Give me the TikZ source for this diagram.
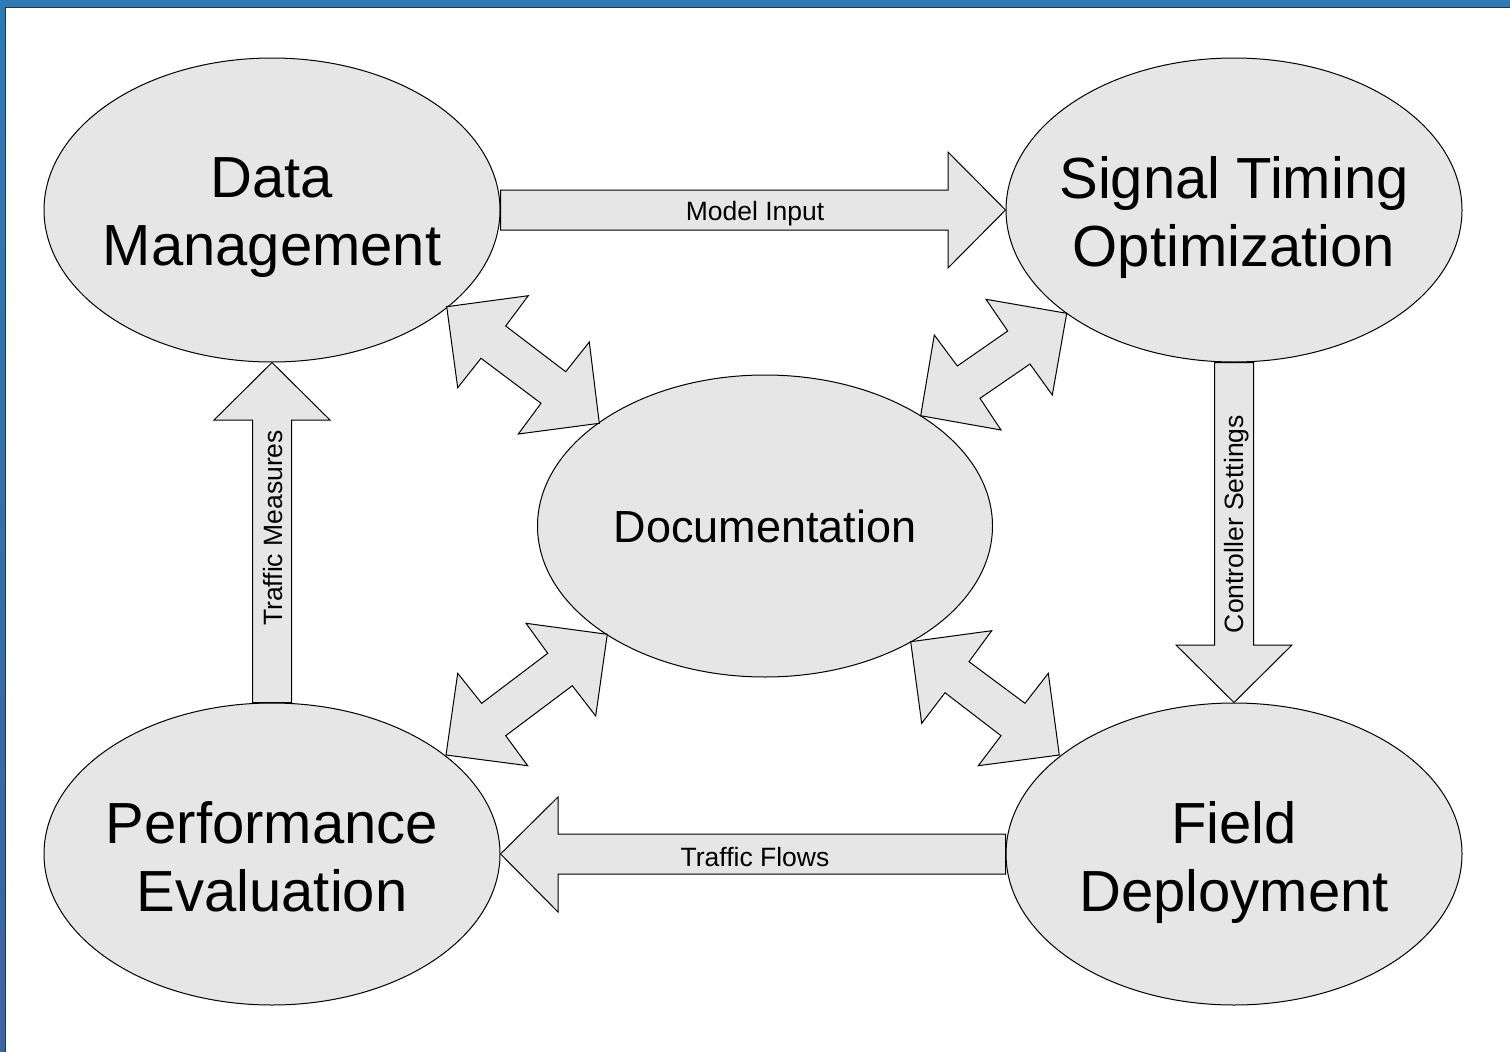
\documentclass[tikz,border=0pt]{standalone}
\usepackage{fontspec}
\setmainfont{Liberation Sans}
\usetikzlibrary{shapes.geometric,calc}
\definecolor{frameblue}{HTML}{2F7AB3}
\definecolor{frameblue2}{HTML}{3C64A0}
\definecolor{shapegray}{HTML}{E6E6E6}
\tikzset{
  bubble/.style={ellipse, draw=black, line width=1pt, fill=shapegray, inner sep=0pt,
    minimum width=456pt, minimum height=304pt},
  bubbletext/.style={align=center, inner sep=0pt, font=\fontsize{58}{68}\selectfont},
  blockarrow/.style={draw=black, line width=1pt, fill=shapegray, line join=miter},
  arrowlabel/.style={font=\fontsize{26.5}{30}\selectfont, inner sep=0pt}
}
\begin{document}
\begin{tikzpicture}[x=1pt,y=-1pt]
\useasboundingbox (0,0) rectangle (1510,1052);
\fill[white] (0,0) rectangle (1510,1052);
% frame
\shade[top color=frameblue, bottom color=frameblue2] (0,0) rectangle (5,1052);
\fill[frameblue] (0,0) rectangle (1510,7);
\draw[black!80, line width=1.2pt] (5.6,1052) -- (5.6,7.6) -- (1510,7.6);

% ellipses
\node[bubble] (dm) at (272,210) {};
\node[bubble] (sto) at (1234,210) {};
\node[bubble, minimum width=455pt, minimum height=302pt] (doc) at (765,526) {};
\node[bubble, minimum height=302pt] (pe) at (272,854) {};
\node[bubble, minimum height=302pt] (fd) at (1234,854) {};

\node[bubbletext] (dmt) at ($(dm.center)+(0,8)$) {Data\\Management};
\node[bubbletext] (stot) at ($(sto.center)+(0,8)$) {Signal Timing\\Optimization};
\node[bubbletext, font=\fontsize{45}{54}\selectfont] (doct) at (doc.center) {Documentation};
\node[bubbletext] (pet) at ($(pe.center)+(0,3)$) {Performance\\Evaluation};
\node[bubbletext] (fdt) at ($(fd.center)+(0,8)$) {Field\\Deployment};

% straight block arrows
\draw[blockarrow] ($(dm.east)+(0,-20)$) -- (948,190) -- (948,152) -- (sto.west) -- (948,268) -- (948,230) -- ($(dm.east)+(0,20)$) -- cycle;
\draw[blockarrow] ($(fd.west)+(0,-20)$) -- (558,834) -- (558,797) -- (pe.east) -- (558,912) -- (558,874) -- ($(fd.west)+(0,20)$) -- cycle;
\draw[blockarrow] ($(pe.north)+(-19.5,0)$) -- (252.5,420) -- (214,420) -- (dm.south) -- (330,420) -- (291.5,420) -- ($(pe.north)+(19.5,0)$) -- cycle;
\draw[blockarrow] ($(sto.south)+(-19.5,0)$) -- (1214.5,645) -- (1176,645) -- (fd.north) -- (1292,645) -- (1253.5,645) -- ($(sto.south)+(19.5,0)$) -- cycle;

\node[arrowlabel] (lmi) at (755,214) {Model Input};
\node[arrowlabel] (ltf) at (755,857) {Traffic Flows};
\node[arrowlabel, rotate=90] (ltm) at (273,528) {Traffic Measures};
\node[arrowlabel, rotate=90] (lcs) at (1237,524) {Controller Settings};

% double arrows
\coordinate (a1) at (446.7,306.7);
\coordinate (a2) at (599.3,423.3);
\draw[blockarrow] (a1) -- (528.3,295.7) -- (505.7,326) -- (565.7,371.7) -- (589.3,342) -- (a2) -- (518.3,434) -- (541,403.3) -- (481,358.3) -- (457.7,387.7) -- cycle;

\coordinate (b1) at (1066.7,313.3);
\coordinate (b2) at (920.7,415.7);
\draw[blockarrow] (b1) -- (1052.3,395) -- (1030,364) -- (980,398.3) -- (1001,430) -- (b2) -- (934.3,335) -- (957.3,366) -- (1007.7,331) -- (986,299.3) -- cycle;

\coordinate (c1) at (607.3,634.3);
\coordinate (c2) at (446,755);
\draw[blockarrow] (c1) -- (595.7,716) -- (572.3,685.7) -- (505.7,735.7) -- (527.7,765.7) -- (c2) -- (457.7,673.3) -- (481.7,703.3) -- (547.7,653.3) -- (526,623.3) -- cycle;

\coordinate (d1) at (910.7,641.7);
\coordinate (d2) at (1059.3,755);
\draw[blockarrow] (d1) -- (991.7,630.7) -- (969,661.7) -- (1025,703.3) -- (1048.3,673.3) -- (d2) -- (978.3,765.7) -- (1001,735.7) -- (945,692.7) -- (921.7,723.3) -- cycle;
\end{tikzpicture}
\end{document}
